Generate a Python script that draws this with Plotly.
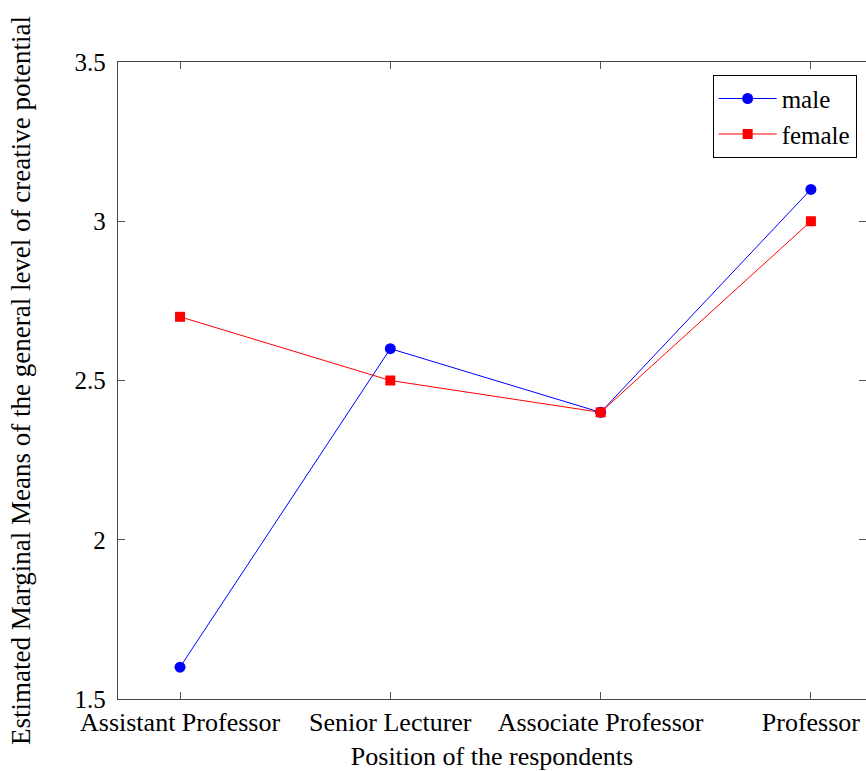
import plotly.graph_objects as go

# Estimated marginal means by academic position and gender
positions = ["Assistant Professor", "Senior Lecturer", "Associate Professor", "Professor"]
male_means = [1.6, 2.6, 2.4, 3.1]
female_means = [2.7, 2.5, 2.4, 3.0]
y_ticks = [1.5, 2, 2.5, 3, 3.5]
y_tick_text = ["1.5", "2", "2.5", "3", "3.5"]

x_idx = list(range(len(positions)))
FONT = "Liberation Serif"
TXT = 26

fig = go.Figure()
fig.add_trace(go.Scatter(
    x=x_idx, y=male_means, name="male", mode="lines+markers",
    line=dict(color="#0000ff", width=1),
    marker=dict(symbol="circle", size=11, color="#0000ff"),
))
fig.add_trace(go.Scatter(
    x=x_idx, y=female_means, name="female", mode="lines+markers",
    line=dict(color="#ff0000", width=1),
    marker=dict(symbol="square", size=10, color="#ff0000"),
))
# right-side tick marks only (no spine)
fig.add_trace(go.Scatter(x=[None], y=[None], yaxis="y2", showlegend=False, hoverinfo="skip"))

fig.update_layout(
    width=866, height=771,
    margin=dict(l=118, r=0, t=62, b=72),
    paper_bgcolor="white", plot_bgcolor="white",
    font=dict(family=FONT, size=TXT, color="black"),
    xaxis=dict(
        range=[-0.295, 3.262],
        tickmode="array", tickvals=x_idx, ticktext=positions,
        ticks="inside", ticklen=7, tickcolor="#555", tickwidth=1,
        showline=True, linecolor="#444", linewidth=1.3, mirror="ticks",
        showgrid=False, zeroline=False,
        ticklabelstandoff=0,
        tickfont=dict(family=FONT, size=TXT),
        title=dict(text="Position of the respondents", standoff=12,
                   font=dict(family=FONT, size=TXT)),
    ),
    yaxis=dict(
        range=[1.5, 3.5],
        tickmode="array", tickvals=y_ticks, ticktext=y_tick_text,
        ticks="inside", ticklen=7, tickcolor="#555", tickwidth=1,
        showline=True, linecolor="#444", linewidth=1.3,
        showgrid=False, zeroline=False,
        ticklabelstandoff=6,
        tickfont=dict(family=FONT, size=25),
        title=dict(text="Estimated Marginal Means of the general level of creative potential",
                   standoff=36, font=dict(family=FONT, size=27)),
    ),
    yaxis2=dict(
        overlaying="y", side="right", matches="y",
        tickmode="array", tickvals=y_ticks,
        ticks="inside", ticklen=7, tickcolor="#555",
        showticklabels=False, showline=False, showgrid=False, zeroline=False,
    ),
    legend=dict(
        x=0.795, y=0.98, xanchor="left", yanchor="top",
        bgcolor="white", bordercolor="black", borderwidth=1,
        font=dict(family=FONT, size=25),
        itemwidth=58, tracegroupgap=0,
    ),
)

fig.write_html("out.html")
